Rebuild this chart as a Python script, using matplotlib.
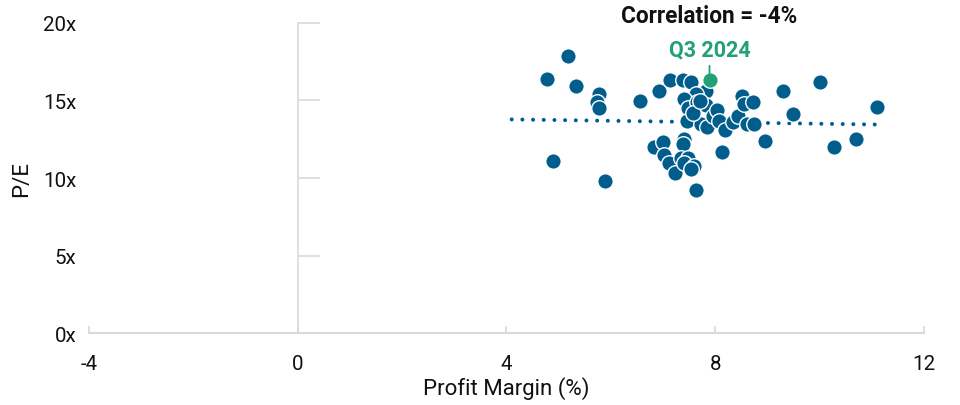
import matplotlib
matplotlib.use("Agg")
import matplotlib.pyplot as plt
import numpy as np

plt.rcParams['font.family'] = ['Roboto', 'DejaVu Sans']
plt.rcParams['axes.unicode_minus'] = False

# quarterly profit margin (%) vs P/E
margin = [5.17, 4.78, 5.33, 5.77, 5.74, 5.77, 6.56, 6.93, 7.13, 7.38,
          7.53, 7.83, 7.64, 7.40, 7.48, 7.65, 7.83, 7.45, 7.73, 7.84,
          7.96, 8.03, 8.08, 8.18, 8.34, 8.44, 8.52, 8.56, 8.72, 8.60,
          8.75, 8.95, 9.30, 9.49, 10.00, 10.27, 10.70, 11.09, 4.89, 5.88,
          6.83, 7.00, 7.02, 7.11, 7.23, 7.40, 7.38, 7.34, 7.48, 7.40,
          7.59, 7.54, 7.64, 8.13, 7.58, 7.70]
pe = [17.9, 16.4, 15.95, 15.4, 14.9, 14.5, 15.0, 15.6, 16.3, 16.3,
      16.2, 15.6, 15.4, 15.1, 14.5, 14.9, 14.7, 13.7, 13.5, 13.3,
      14.0, 14.4, 13.7, 13.1, 13.6, 14.0, 15.3, 14.8, 14.9, 13.5,
      13.5, 12.4, 15.6, 14.1, 16.2, 12.0, 12.5, 14.6, 11.1, 9.8,
      12.0, 12.3, 11.5, 11.0, 10.3, 12.5, 12.2, 11.3, 11.3, 11.0,
      10.8, 10.6, 9.2, 11.7, 14.2, 15.0]
latest_margin = 7.89
latest_pe = 16.3
latest_label = "Q3 2024"

trend_x = [4.1, 11.1]
trend_y = [13.78, 13.45]

blue = "#005d8c"
green = "#22a078"
grey = "#d9d9d9"

fig = plt.figure(figsize=(9.6, 4.06), dpi=100)
ax = fig.add_axes([0.0927, 0.177, 0.8698, 0.764])

ax.plot(trend_x, trend_y, color=blue, lw=2.9, linestyle=(0, (0.001, 2.65)),
        dash_capstyle='round', zorder=2)
ax.scatter(margin, pe, s=125, color=blue, edgecolor='white', linewidth=1.0,
           zorder=3, clip_on=False)
ax.scatter([latest_margin], [latest_pe], s=125, color=green, edgecolor='white',
           linewidth=1.0, zorder=4, clip_on=False)

ax.annotate(latest_label, xy=(latest_margin, latest_pe), xytext=(latest_margin, 18.3),
            ha='center', va='center', color=green, fontsize=15.5, fontweight='bold',
            arrowprops=dict(arrowstyle='-', color=green, lw=1.3, shrinkA=2, shrinkB=2),
            annotation_clip=False, zorder=5)
ax.text(latest_margin, 20.45, "Correlation = -4%", ha='center', va='center',
        fontsize=16.3, fontweight='bold', color='#111111', clip_on=False)

ax.set_xlim(-4, 12)
ax.set_ylim(0, 20)
ax.set_xticks([-4, 0, 4, 8, 12])
ax.set_yticks([0, 5, 10, 15, 20])
ax.set_yticklabels(['0x', '5x', '10x', '15x', '20x'])

for s in ['top', 'right', 'left']:
    ax.spines[s].set_visible(False)
ax.spines['bottom'].set_color(grey)
ax.spines['bottom'].set_linewidth(1.5)
ax.tick_params(axis='y', length=0, pad=9, labelsize=14.8, labelcolor='#111111')
ax.tick_params(axis='x', direction='in', length=5, width=1.2, color=grey,
               pad=15, labelsize=14.8, labelcolor='#111111')

# the vertical axis line sits at x = 0, with ticks pointing right
sec = ax.secondary_yaxis(0.25)
sec.spines['right'].set_visible(False)
sec.spines['left'].set_color(grey)
sec.spines['left'].set_linewidth(1.2)
sec.set_yticks([0, 5, 10, 15, 20])
sec.tick_params(direction='in', length=16, width=1.2, color=grey, labelleft=False)

ax.set_xlabel("Profit Margin (%)", fontsize=16, color='#111111', labelpad=2)
ax.set_ylabel("P/E", fontsize=16, color='#111111', labelpad=8)

fig.savefig("out.png", dpi=100)
